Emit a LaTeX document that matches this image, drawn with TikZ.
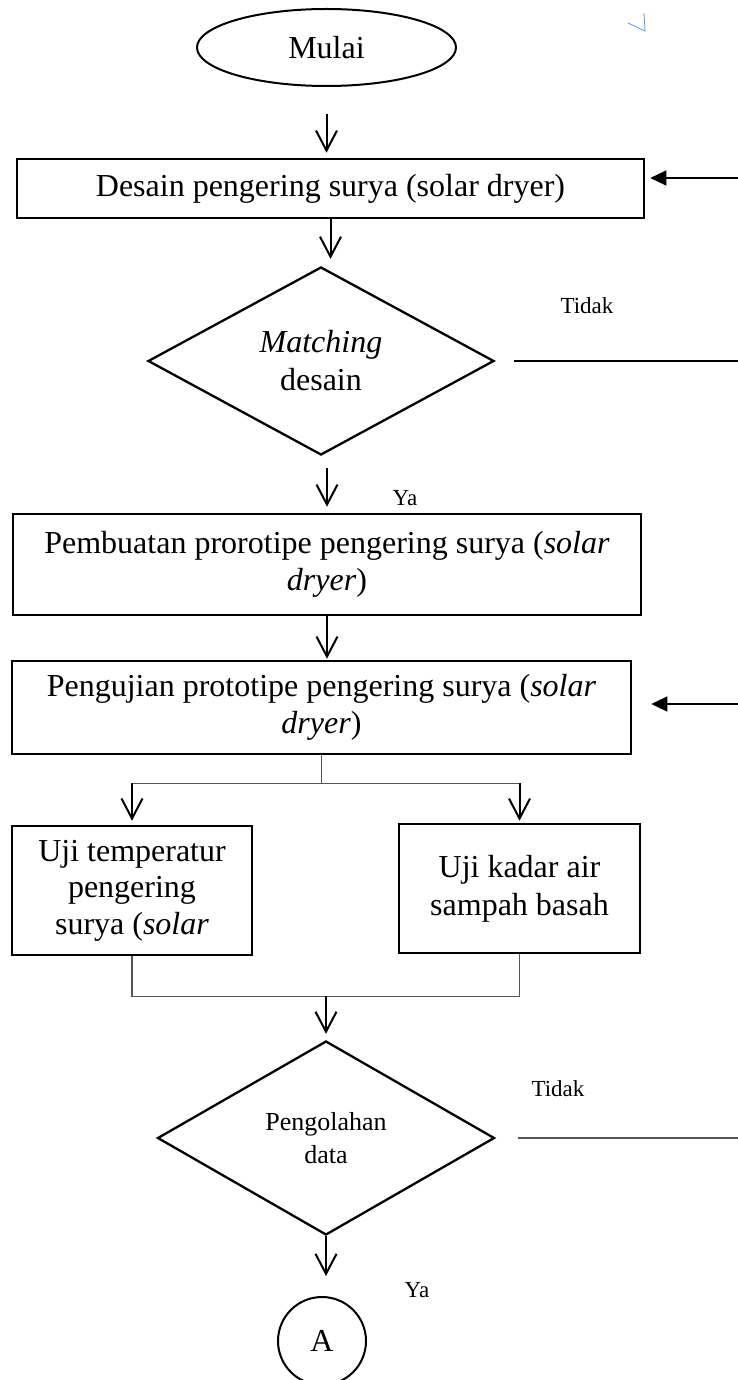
\documentclass[tikz,border=0pt]{standalone}
\usepackage{fontspec}
\setmainfont{Liberation Serif}
\usepackage{tikz}
\usetikzlibrary{shapes.geometric,arrows.meta}
\definecolor{linegray}{RGB}{85,85,85}
\definecolor{markblue}{RGB}{91,155,213}

\tikzset{
  proses/.style={draw,rectangle,line width=2.6pt,inner sep=0pt,align=center,font=\fontsize{32}{37}\selectfont},
  keputusan/.style={draw,diamond,line width=2.3pt,inner sep=0pt,align=center},
  ket/.style={inner sep=0pt,font=\fontsize{23}{27}\selectfont},
  panah/.style={-{Straight Barb[length=20pt,width=21pt]},line width=2pt},
  balik/.style={-{Triangle[length=16pt,width=15pt]},line width=1.3pt},
  garis/.style={line width=1.2pt,draw=linegray},
}

\begin{document}
\begin{tikzpicture}[x=1pt,y=-1pt]
\useasboundingbox (0,0) rectangle (738,1380);
% simbol awal dan proses desain
\node (mulai) [draw,ellipse,line width=2pt,minimum width=259pt,minimum height=77pt,inner sep=0pt,font=\fontsize{32}{37}\selectfont] at (326.5,47.5) {Mulai};
\node (desain) [proses,minimum width=627pt,minimum height=59pt] at (330.5,188.5) {Desain pengering surya (solar dryer)};
\node (cocok) [keputusan,minimum width=346pt,minimum height=188pt,shape aspect=1.84,font=\fontsize{32}{38}\selectfont] at (321,361) {\textit{Matching}\\desain};
\node (buat) [proses,minimum width=628pt,minimum height=101pt] at (327,564.5) {Pembuatan prorotipe pengering surya (\textit{solar}\\\textit{dryer})};
\node (uji) [proses,minimum width=619pt,minimum height=93pt] at (321.5,707.5) {Pengujian prototipe pengering surya (\textit{solar}\\\textit{dryer})};
% dua pengujian
\node (suhu) [proses,minimum width=240pt,minimum height=129pt,font=\fontsize{32}{36.5}\selectfont] at (132,890.5) {Uji temperatur\\pengering\\surya (\textit{solar}};
\node (kadar) [proses,minimum width=241pt,minimum height=129pt,font=\fontsize{32}{38}\selectfont] at (519.5,888.5) {Uji kadar air\\sampah basah};
\node (olah) [keputusan,minimum width=337pt,minimum height=194pt,shape aspect=1.74,font=\fontsize{26}{33}\selectfont] at (326,1138) {Pengolahan\\data};
\node (A) [draw,circle,line width=2pt,minimum size=88pt,inner sep=0pt,font=\fontsize{32}{37}\selectfont] at (322,1341) {A};

% keterangan
\node (tidak1) [ket] at (587,306) {Tidak};
\node (ya1) [ket] at (405,498) {Ya};
\node (tidak2) [ket] at (558,1089) {Tidak};
\node (ya2) [ket] at (417,1290) {Ya};

% ujung kanan jalur kembali
\coordinate (tepi1) at (738,178);
\coordinate (tepi2) at (738,361);
\coordinate (tepi3) at (738,704);
\coordinate (tepi4) at (738,1138);

% alur utama
\draw[panah,shorten <=27pt,shorten >=5pt] (mulai.south) -- (mulai.south |- desain.north);
\draw[panah,shorten >=7pt] (desain.south) -- (desain.south |- cocok.north);
\draw[panah,shorten <=12pt,shorten >=6pt] (buat.north |- cocok.south) -- (buat.north);
\draw[panah,shorten >=1pt] (buat.south) -- (buat.south |- uji.north);

% percabangan
\draw[garis] (uji.south) -- ++(0,28) coordinate (cabang);
\draw[garis] (suhu.north |- cabang) -- (kadar.north |- cabang);
\draw[panah,shorten >=4pt] (suhu.north |- cabang) -- (suhu.north);
\draw[panah,shorten >=2pt] (kadar.north |- cabang) -- (kadar.north);
\draw[garis] (suhu.south) -- ++(0,40) coordinate (gabung) -- (gabung -| kadar.south) -- (kadar.south);
\draw[panah,shorten >=6pt] (olah.north |- gabung) -- (olah.north);
\draw[panah,shorten >=20pt] (olah.south) -- (olah.south |- A.north);

% jalur tidak
\draw[line width=1.2pt,shorten <=19pt] (cocok.east) -- (tepi2);
\draw[garis,shorten <=22pt] (olah.east) -- (tepi4);
\draw[balik,shorten >=5pt] (tepi1) -- (tepi1 -| desain.east);
\draw[balik,shorten >=19pt] (tepi3) -- (tepi3 -| uji.east);

\draw[markblue,line width=0.8pt] (628,23) -- (645,31) -- (644,13);
\end{tikzpicture}
\end{document}
